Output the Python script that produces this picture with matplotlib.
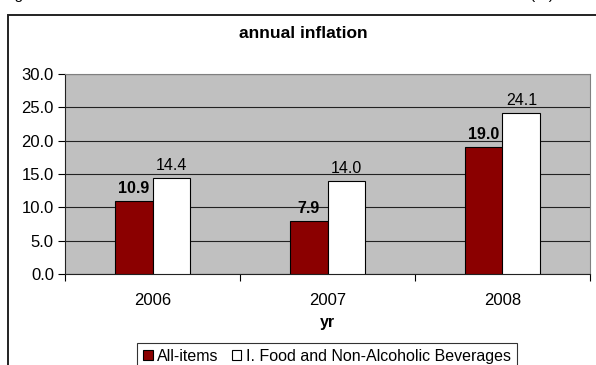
import matplotlib
matplotlib.use("Agg")
import matplotlib.pyplot as plt
import numpy as np
from matplotlib.patches import Rectangle

plt.rcParams['font.family'] = ['Liberation Sans', 'DejaVu Sans']

years = ["2006", "2007", "2008"]
all_items = [10.9, 7.9, 19.0]
food = [14.4, 14.0, 24.1]
series_names = ["All-items", "I. Food and Non-Alcoholic Beverages"]
title = "annual inflation"
xlabel = "yr"

W, H = 596, 365
fig = plt.figure(figsize=(W / 100, H / 100), dpi=100)

# outer chart frame (extends beyond the image on right and bottom)
fig.patches.append(Rectangle((8 / W, -0.1), 1.2, (H - 15) / H + 0.1,
                             transform=fig.transFigure, fill=False,
                             edgecolor='#222222', linewidth=1.4, clip_on=False))

# caption above the frame, mostly cut off by the image edge
fig.text(3 / W, 1 + 1 / H, "Fig", fontsize=11, va='baseline', ha='left')
fig.text(530 / W, 1 + 1 / H, "(%)", fontsize=11, va='baseline', ha='left')

ax = fig.add_axes([65 / W, 1 - 274 / H, (590 - 65) / W, 200 / H])
ax.set_facecolor('#C0C0C0')

x = np.arange(len(years))
bw = 0.217
b1 = ax.bar(x - bw / 2, all_items, bw, color='#8B0000', edgecolor='black',
            linewidth=0.8, label=series_names[0], zorder=3)
b2 = ax.bar(x + bw / 2, food, bw, color='white', edgecolor='black',
            linewidth=0.8, label=series_names[1], zorder=3)

for xi, v in zip(x, all_items):
    ax.text(xi - bw / 2, v + 1.2, f"{v:.1f}", ha='center', va='baseline',
            fontsize=11.5, fontweight='bold')
for xi, v in zip(x, food):
    ax.text(xi + bw / 2, v + 1.2, f"{v:.1f}", ha='center', va='baseline',
            fontsize=11.5)

ax.set_xlim(-0.5, 2.5)
ax.set_ylim(0, 30)
ax.set_yticks(np.arange(0, 30.1, 5))
ax.set_yticklabels([f"{t:.1f}" for t in np.arange(0, 30.1, 5)], fontsize=12)
ax.yaxis.grid(True, color='#222222', linewidth=0.8, zorder=1)
ax.set_axisbelow(True)

ax.set_xticks([-0.5, 0.5, 1.5, 2.5])
ax.set_xticklabels([])
ax.set_xticks(x, minor=True)
ax.set_xticklabels(years, minor=True, fontsize=12)
ax.tick_params(axis='x', which='minor', length=0, pad=14)
ax.tick_params(axis='x', which='major', length=5, width=0.8, direction='out')
ax.tick_params(axis='y', length=5, width=0.8, direction='out', pad=3)

for s in ['top', 'right']:
    ax.spines[s].set_color('#808080')
    ax.spines[s].set_linewidth(0.8)
for s in ['left', 'bottom']:
    ax.spines[s].set_color('#222222')
    ax.spines[s].set_linewidth(0.8)

fig.text(303 / W, 1 - 33 / H, title, fontsize=12.5, fontweight='bold',
         ha='center', va='center')
fig.text(327 / W, 1 - 322 / H, xlabel, fontsize=11.5, fontweight='bold',
         ha='center', va='center')

leg = fig.legend(handles=[b1, b2], labels=series_names, loc='upper center',
                 bbox_to_anchor=(327 / W, 1 - 343 / H), ncol=2, fontsize=11.5,
                 frameon=True, fancybox=False, edgecolor='black',
                 handlelength=0.6, handleheight=0.6, handletextpad=0.3,
                 columnspacing=0.8, borderpad=0.35, borderaxespad=0)
leg.get_frame().set_linewidth(0.8)

fig.savefig("out.png", dpi=100)
